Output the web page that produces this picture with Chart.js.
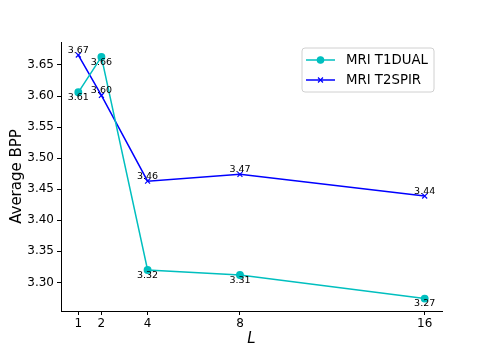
<!DOCTYPE html>
<html lang="en">
<head>
    <meta charset="UTF-8">
    <title>Average BPP vs L</title>
    <script src="https://cdn.jsdelivr.net/npm/chart.js"></script>
    <style>
        body { margin: 0; padding: 0; background: #fff; }
        canvas { display: block; }
    </style>
</head>
<body>
    <canvas id="bppChart" width="491" height="350"></canvas>
    <script>
        const seriesNames = ['MRI T1DUAL', 'MRI T2SPIR'];
        const levels = [1, 2, 4, 8, 16];
        const t1dual = [3.606, 3.663, 3.320, 3.312, 3.274];
        const t2spir = [3.666, 3.601, 3.463, 3.474, 3.439];
        const yTicks = [3.30, 3.35, 3.40, 3.45, 3.50, 3.55, 3.60, 3.65];

        const FONT = "'DejaVu Sans', sans-serif";

        const toPoints = (vals) => vals.map((v, i) => ({ x: levels[i], y: v }));

        // value labels: T1DUAL under its points, T2SPIR above
        const valueLabels = {
            id: 'valueLabels',
            afterDatasetsDraw(chart) {
                const ctx = chart.ctx;
                ctx.save();
                ctx.font = '9.5px ' + FONT;
                ctx.fillStyle = '#000';
                ctx.textAlign = 'center';
                chart.data.datasets.forEach((ds, di) => {
                    const meta = chart.getDatasetMeta(di);
                    meta.data.forEach((pt, i) => {
                        const txt = ds.data[i].y.toFixed(2);
                        if (di === 0) {
                            ctx.textBaseline = 'top';
                            ctx.fillText(txt, pt.x, pt.y + 0.5);
                        } else {
                            ctx.textBaseline = 'alphabetic';
                            ctx.fillText(txt, pt.x, pt.y - 2);
                        }
                    });
                });
                ctx.restore();
            }
        };

        // matplotlib style legend box in the upper right
        const boxLegend = {
            id: 'boxLegend',
            afterDraw(chart) {
                const ctx = chart.ctx;
                const x0 = 302, y0 = 48, w = 132, h = 44, r = 3;
                ctx.save();
                ctx.beginPath();
                ctx.roundRect(x0, y0, w, h, r);
                ctx.fillStyle = 'rgba(255,255,255,0.8)';
                ctx.fill();
                ctx.strokeStyle = '#d0d0d0';
                ctx.lineWidth = 1;
                ctx.stroke();
                chart.data.datasets.forEach((ds, i) => {
                    const yy = 60 + i * 20;
                    ctx.strokeStyle = ds.borderColor;
                    ctx.fillStyle = ds.borderColor;
                    ctx.lineWidth = 1.5;
                    ctx.beginPath();
                    ctx.moveTo(306, yy);
                    ctx.lineTo(335, yy);
                    ctx.stroke();
                    ctx.lineWidth = 1.2;
                    Chart.helpers.drawPoint(ctx, {
                        pointStyle: ds.pointStyle,
                        radius: ds.pointRadius,
                        borderWidth: 1.2
                    }, 320.5, yy);
                    ctx.fillStyle = '#000';
                    ctx.font = '13.3px ' + FONT;
                    ctx.textAlign = 'left';
                    ctx.textBaseline = 'middle';
                    ctx.fillText(ds.label, 346, yy + 0.5);
                });
                ctx.restore();
            }
        };

        new Chart(document.getElementById('bppChart'), {
            type: 'line',
            data: {
                datasets: [{
                    label: seriesNames[0],
                    data: toPoints(t1dual),
                    borderColor: '#00bfbf',
                    backgroundColor: '#00bfbf',
                    pointBackgroundColor: '#00bfbf',
                    pointBorderColor: '#00bfbf',
                    pointStyle: 'circle',
                    pointRadius: 3.2,
                    borderWidth: 1.5,
                    tension: 0,
                    fill: false
                }, {
                    label: seriesNames[1],
                    data: toPoints(t2spir),
                    borderColor: '#0000ff',
                    backgroundColor: '#0000ff',
                    pointBorderColor: '#0000ff',
                    pointStyle: 'crossRot',
                    pointRadius: 3.5,
                    pointBorderWidth: 1.2,
                    borderWidth: 1.5,
                    tension: 0,
                    fill: false
                }]
            },
            options: {
                responsive: false,
                animation: false,
                layout: { padding: { left: 0, right: 49, top: 42, bottom: 0 } },
                plugins: {
                    legend: { display: false },
                    tooltip: { enabled: false }
                },
                scales: {
                    x: {
                        type: 'linear',
                        min: 0.25,
                        max: 16.75,
                        afterBuildTicks: (s) => { s.ticks = levels.map(v => ({ value: v })); },
                        afterFit: (s) => { s.height = 39; },
                        grid: { display: true, drawOnChartArea: false, drawTicks: true, tickLength: 4, color: '#000', lineWidth: 1 },
                        border: { display: true, color: '#000', width: 1 },
                        ticks: {
                            color: '#000',
                            padding: 2,
                            maxRotation: 0,
                            font: { family: FONT, size: 12 },
                            callback: (v) => String(v)
                        },
                        title: {
                            display: true,
                            text: 'L',
                            color: '#000',
                            padding: { top: 0, bottom: 2 },
                            font: { family: FONT, size: 15, style: 'italic' }
                        }
                    },
                    y: {
                        min: 3.254,
                        max: 3.687,
                        afterBuildTicks: (s) => { s.ticks = yTicks.map(v => ({ value: v })); },
                        afterFit: (s) => { s.width = 61; },
                        grid: { display: true, drawOnChartArea: false, drawTicks: true, tickLength: 4, color: '#000', lineWidth: 1 },
                        border: { display: true, color: '#000', width: 1 },
                        ticks: {
                            color: '#000',
                            padding: 3,
                            font: { family: FONT, size: 12 },
                            callback: (v) => v.toFixed(2)
                        },
                        title: {
                            display: true,
                            text: 'Average BPP',
                            color: '#000',
                            padding: { top: 8.5, bottom: 0 },
                            font: { family: FONT, size: 15 }
                        }
                    }
                }
            },
            plugins: [valueLabels, boxLegend]
        });
    </script>
</body>
</html>
